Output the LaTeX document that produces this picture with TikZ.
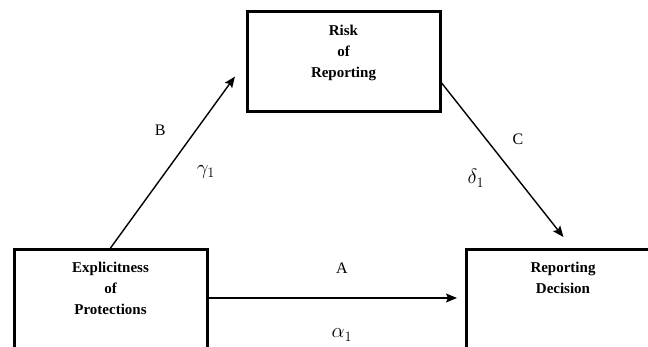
\documentclass[tikz,border=0pt]{standalone}
\usepackage{fontspec}
\setmainfont{Liberation Serif}
\usetikzlibrary{positioning,arrows.meta}
\newcommand{\boxlines}[2]{\parbox[c][#1][t]{180pt}{\centering #2}}

\begin{document}
\begin{tikzpicture}[x=1pt, y=1pt, node distance=250pt, on grid,
    factor/.style={draw, line width=3pt, inner sep=0pt, minimum width=193pt,
      font=\fontsize{15}{21}\selectfont\bfseries},
    link/.style={-{Stealth[length=11pt,width=9pt,inset=2pt]}, line width=1.4pt},
    coef/.style={font=\fontsize{20}{24}\selectfont},
    font=\fontsize{16}{19}\selectfont]
  \useasboundingbox (0,0) rectangle (648,346);
  \node[factor, minimum height=127pt] (expl) at (110.5,33) {\boxlines{102pt}{Explicitness\\of\\Protections}};%
  \node[factor, minimum height=100pt] (risk) [above right=251pt and 233pt of expl] {\boxlines{74pt}{Risk\\of\\Reporting}};%
  \node[factor, minimum height=127pt] (dec) [right=452.5pt of expl] {\boxlines{102pt}{Reporting\\Decision}};%
  \draw[link, shorten >=18pt] (expl.north) -- node[pos=0.635, xshift=-36pt] {B}
    node[coef, pos=0.41, xshift=40pt] {$\gamma_1$} (risk.west);
  \draw[link, shorten >=14pt] (risk.-12) -- node[pos=0.341, xshift=32pt] {C}
    node[coef, pos=0.578, xshift=-41pt] {$\delta_1$} (dec.82);
  \draw[link, shorten >=8pt] ([yshift=15pt]expl.east) -- node[pos=0.52, yshift=30pt] {A}
    node[coef, pos=0.52, yshift=-37pt] {$\alpha_1$} ([yshift=15pt]dec.west);
\end{tikzpicture}
\end{document}
